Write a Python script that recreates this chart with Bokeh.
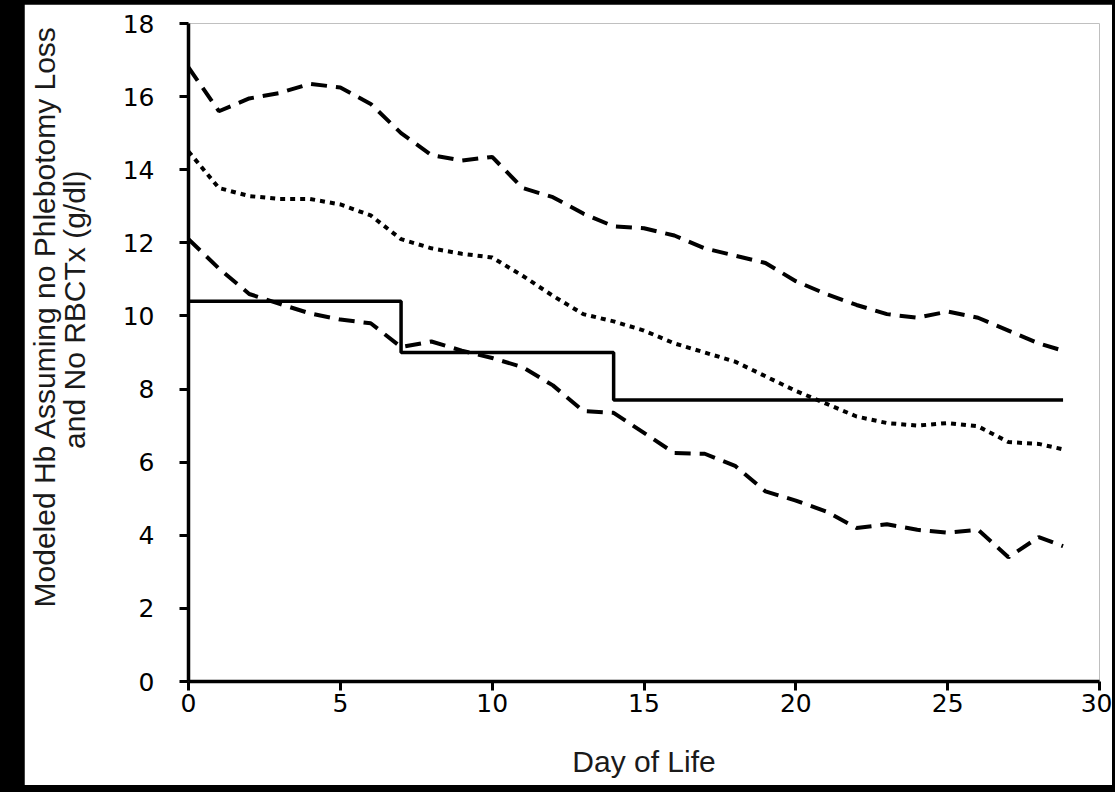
from bokeh.plotting import figure
from bokeh.models import FixedTicker, Title
from bokeh.embed import file_html
from bokeh.resources import INLINE

# ---- data ----
days = [0, 1, 2, 3, 4, 5, 6, 7, 8, 9, 10, 11, 12, 13, 14, 15, 16, 17, 18, 19,
        20, 21, 22, 23, 24, 25, 26, 27, 28, 28.8]
upper_hb = [16.8, 15.6, 15.95, 16.1, 16.35, 16.25, 15.8, 15.0, 14.4, 14.25,
            14.35, 13.5, 13.25, 12.8, 12.45, 12.4, 12.2, 11.85, 11.65, 11.45,
            10.95, 10.6, 10.3, 10.05, 9.95, 10.12, 9.95, 9.6, 9.25, 9.05]
median_hb = [14.5, 13.5, 13.28, 13.2, 13.2, 13.05, 12.75, 12.1, 11.85, 11.7,
             11.6, 11.1, 10.55, 10.05, 9.85, 9.6, 9.25, 9.0, 8.75, 8.35,
             7.95, 7.6, 7.25, 7.07, 7.0, 7.07, 6.98, 6.55, 6.5, 6.35]
lower_hb = [12.1, 11.3, 10.6, 10.33, 10.07, 9.9, 9.8, 9.15, 9.3, 9.05,
            8.85, 8.6, 8.1, 7.4, 7.35, 6.8, 6.25, 6.23, 5.9, 5.2,
            4.95, 4.65, 4.2, 4.3, 4.15, 4.07, 4.15, 3.4, 3.95, 3.7]
threshold_days = [0, 7, 14, 28.8]
threshold_hb = [10.4, 9.0, 7.7, 7.7]
x_ticks = [0, 5, 10, 15, 20, 25, 30]
y_ticks = [0, 2, 4, 6, 8, 10, 12, 14, 16, 18]
x_title = "Day of Life"
y_title_1 = "Modeled Hb Assuming no Phlebotomy Loss"
y_title_2 = "and No RBCTx (g/dl)"

TITLE_FONT = "Liberation Sans"
TEXT_COLOR = "#1a1a1a"

p = figure(width=1088, height=781, x_range=(0, 30), y_range=(0, 18),
           output_backend="svg", toolbar_location=None,
           min_border_left=164, min_border_right=13,
           min_border_top=19, min_border_bottom=104,
           background_fill_color="white", border_fill_color="white",
           outline_line_color=None)
p.margin = (4, 3, 7, 24)
p.grid.visible = False

p.xaxis.ticker = FixedTicker(ticks=x_ticks)
p.yaxis.ticker = FixedTicker(ticks=y_ticks)
for ax in (p.xaxis, p.yaxis):
    ax.axis_line_width = 3.5
    ax.axis_line_color = "black"
    ax.major_tick_line_width = 3
    ax.major_tick_line_color = "black"
    ax.major_tick_in = 0
    ax.major_tick_out = 9
    ax.minor_tick_line_color = None
    ax.major_label_text_font = "DejaVu Sans"
    ax.major_label_text_font_size = "25px"
    ax.major_label_text_color = "black"
p.xaxis.major_label_standoff = 3
p.yaxis.major_label_standoff = 25

p.xaxis.axis_label = x_title
p.xaxis.axis_label_text_font = TITLE_FONT
p.xaxis.axis_label_text_font_size = "30px"
p.xaxis.axis_label_text_font_style = "normal"
p.xaxis.axis_label_text_color = TEXT_COLOR
p.xaxis.axis_label_standoff = 30

# two single-line titles on the left, placed like the reference's two-line label
p.add_layout(Title(text=y_title_2, align="right", offset=147, standoff=58,
                   text_font=TITLE_FONT, text_font_size="30px",
                   text_font_style="normal", text_color=TEXT_COLOR), "left")
p.add_layout(Title(text=y_title_1, align="right", offset=2, standoff=-68,
                   text_font=TITLE_FONT, text_font_size="30px",
                   text_font_style="normal", text_color=TEXT_COLOR), "left")

p.line(days, upper_hb, line_color="black", line_width=4, line_dash="16 9")
p.line(days, median_hb, line_color="black", line_width=4, line_dash="5 5")
p.line(days, lower_hb, line_color="black", line_width=4, line_dash="16 9")
p.step(threshold_days, threshold_hb, mode="after", line_color="black", line_width=3.5)

html = file_html(p, INLINE)
html = html.replace("</head>",
                    "<style>html,body{margin:0;padding:0;background:#000;}</style></head>", 1)
open("out.html", "w").write(html)
